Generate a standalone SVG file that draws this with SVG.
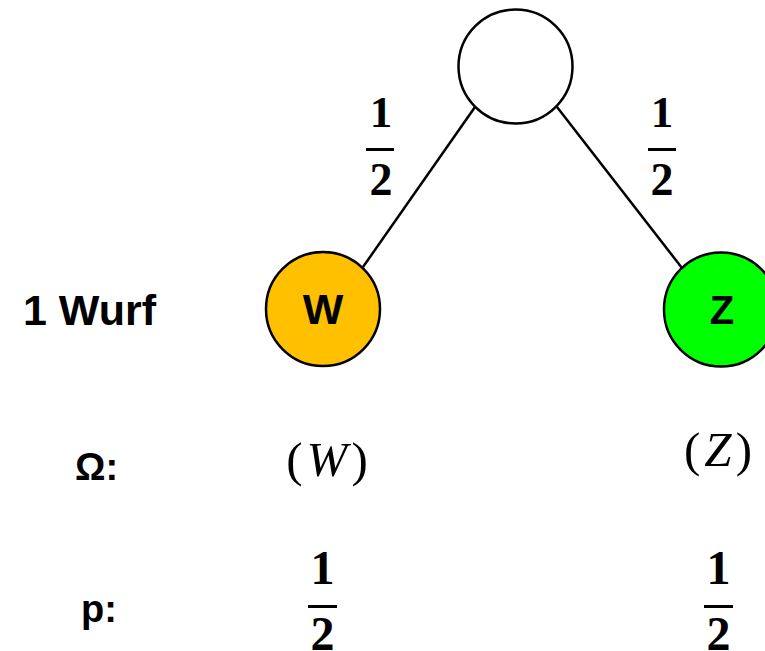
<svg xmlns="http://www.w3.org/2000/svg" width="765" height="651" viewBox="0 0 765 651">
<style>
.node{stroke:#000;stroke-width:2.5}
.lbl{font-family:"Liberation Sans",Arial,sans-serif;font-weight:bold;fill:#000}
.math{font-family:"Liberation Serif","Times New Roman",serif;fill:#000}
.frac{font-family:"Liberation Serif","Times New Roman",serif;font-weight:bold;fill:#000;text-anchor:middle}
.bar{stroke:#000;stroke-width:3}
.edge{stroke:#000;stroke-width:2.5;fill:none}
</style>
<rect width="765" height="651" fill="#fff"/>
<g id="connectors">
<line class="edge" x1="475" y1="107" x2="363" y2="267"/>
<line class="edge" x1="557" y1="107" x2="682" y2="268"/>
</g>
<g id="root"><circle class="node" cx="515.5" cy="66.5" r="57" fill="#fff"/></g>
<g id="nodeW"><circle class="node" cx="323" cy="309" r="57" fill="#FFC000"/><text class="lbl" x="323" y="324" font-size="43" text-anchor="middle">W</text></g>
<g id="nodeZ"><circle class="node" cx="721" cy="309.5" r="57" fill="#00FF00"/><text class="lbl" x="722" y="324" font-size="40" text-anchor="middle">Z</text></g>
<g id="edgeLabelL">
<text class="frac" x="381" y="127" font-size="45">1</text>
<line class="bar" x1="366" y1="149.5" x2="394" y2="149.5"/>
<text class="frac" x="381" y="195" font-size="46">2</text>
</g>
<g id="edgeLabelR">
<text class="frac" x="662" y="127" font-size="45">1</text>
<line class="bar" x1="648" y1="149.5" x2="676" y2="149.5"/>
<text class="frac" x="662" y="195" font-size="46">2</text>
</g>
<text class="lbl" x="23" y="325" font-size="43">1 Wurf</text>
<text class="lbl" x="75" y="480" font-size="38">Ω:</text>
<text class="lbl" x="81" y="622" font-size="38">p:</text>
<text class="math" x="329" y="476" font-size="49" text-anchor="middle" letter-spacing="4">(<tspan font-style="italic">W</tspan>)</text>
<text class="math" x="720" y="466" font-size="49" text-anchor="middle" letter-spacing="4">(<tspan font-style="italic">Z</tspan>)</text>
<g id="probW">
<text class="frac" x="322.5" y="584" font-size="48">1</text>
<line class="bar" x1="308" y1="606.5" x2="337" y2="606.5"/>
<text class="frac" x="322.5" y="650" font-size="48">2</text>
</g>
<g id="probZ">
<text class="frac" x="718.5" y="584" font-size="48">1</text>
<line class="bar" x1="704" y1="606.5" x2="733" y2="606.5"/>
<text class="frac" x="718.5" y="650" font-size="48">2</text>
</g>
</svg>
